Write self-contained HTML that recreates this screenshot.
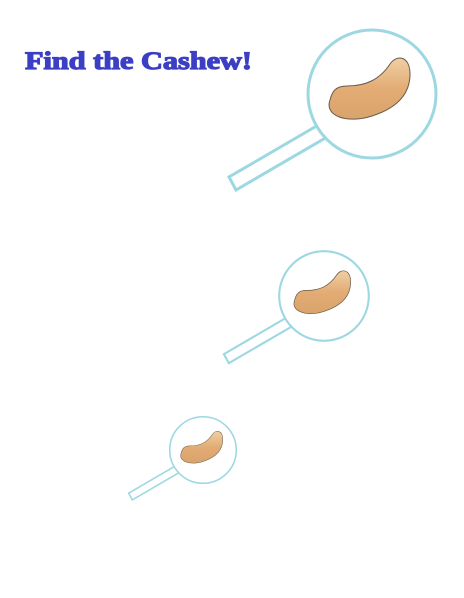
<!DOCTYPE html>
<html><head><meta charset="utf-8"><style>
html,body{margin:0;padding:0;background:#fff;width:464px;height:598px;overflow:hidden}
</style></head><body>
<svg width="464" height="598" viewBox="0 0 464 598">
<defs>
<linearGradient id="nut" x1="0" y1="0" x2="0" y2="1">
<stop offset="0" stop-color="#f0cfa4"/><stop offset="0.5" stop-color="#e2ac74"/><stop offset="1" stop-color="#d9a46c"/>
</linearGradient>
<g id="mag">
<polygon points="-52,30 -143,83 -136,96 -45,43" fill="none" stroke="#9dd8e2" stroke-width="3"/>
<circle cx="0" cy="0" r="64" fill="#fff" stroke="#9dd8e2" stroke-width="3"/>
<path d="M-42,6 C-48,22 -25,30 0,22 C25,14 38,0 38,-20 C38,-38 25,-40 18,-30 C8,-15 -5,-8 -25,-8 C-37,-8 -40,-2 -42,6Z" fill="url(#nut)" stroke="#6b5a4a" stroke-width="1"/>
</g>
</defs>
<text x="25" y="69" font-family="Liberation Serif, serif" font-weight="bold" font-size="25" fill="#3b3fc4" stroke="#3b3fc4" stroke-width="1.2" textLength="227" lengthAdjust="spacingAndGlyphs">Find the Cashew!</text>
<use href="#mag" transform="translate(372,94)"/>
<use href="#mag" transform="translate(324,296) scale(0.7)"/>
<use href="#mag" transform="translate(203,450) scale(0.52)"/>
</svg>
</body></html>
